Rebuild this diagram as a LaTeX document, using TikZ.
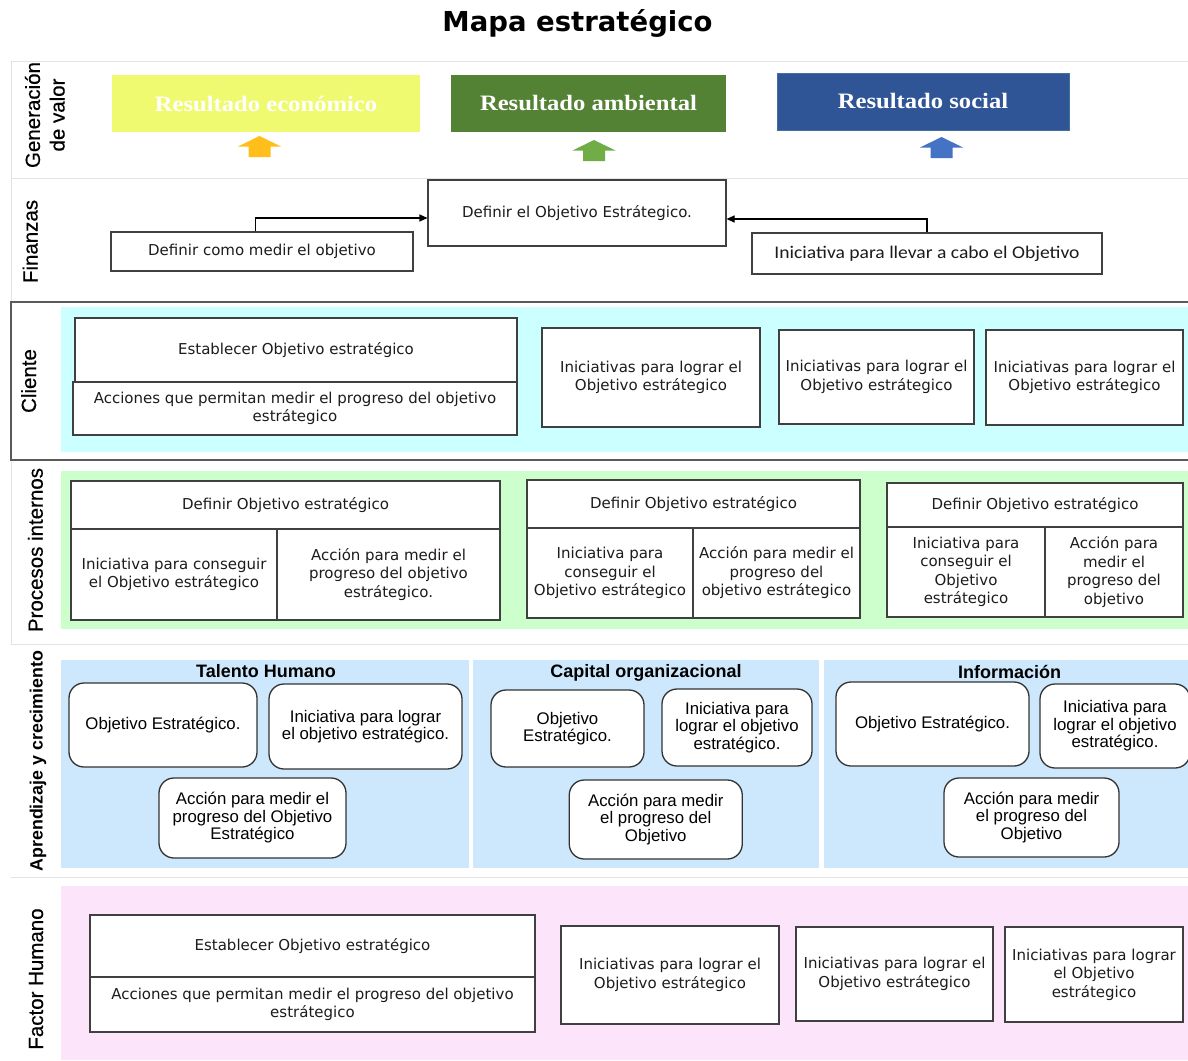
\documentclass[tikz,border=0pt]{standalone}
\usepackage{fontspec}
\setmainfont{DejaVu Sans}
\newfontfamily\tahfont{DejaVu Sans}
\newfontfamily\arialfont{Liberation Sans}
\newfontfamily\labelfont{Liberation Sans}[FakeBold=0.5]
\newfontfamily\calibrifont{Carlito}[FakeStretch=1.1]
\newfontfamily\cambriafont{Liberation Serif}[FakeStretch=1.12]
\usetikzlibrary{arrows.meta}

\definecolor{ecoYellow}{HTML}{F0FA70}
\definecolor{ambGreen}{HTML}{548235}
\definecolor{socBlue}{HTML}{2F5597}
\definecolor{socEdge}{HTML}{41719C}
\definecolor{arrOrange}{HTML}{FFBE1A}
\definecolor{arrGreen}{HTML}{70AD47}
\definecolor{arrBlue}{HTML}{4472C4}
\definecolor{cliCyan}{HTML}{CCFFFF}
\definecolor{procGreen}{HTML}{CCFFCC}
\definecolor{aprBlue}{HTML}{CDE8FC}
\definecolor{facPink}{HTML}{FCE4FB}
\definecolor{sepGray}{HTML}{E3E3E3}
\definecolor{frameGray}{HTML}{595959}
\definecolor{inkDark}{HTML}{1E1A1E}

\begin{document}
\begin{tikzpicture}[x=1pt,y=-1pt,
  sz/.style 2 args={minimum width=#1pt,minimum height=#2pt},
  box/.style={draw=black!75,line width=1.1pt,fill=white,inner sep=1pt,align=center,
    text=inkDark,font=\tahfont\fontsize{15}{18.5}\selectfont},
  rbox/.style={draw=black!80,line width=1.3pt,fill=white,rounded corners=15pt,inner sep=1pt,
    align=center,text=black,font=\arialfont\fontsize{16.8}{17.5}\selectfont},
  resbox/.style={inner sep=0pt,text=white,font=\cambriafont\bfseries\fontsize{22}{26}\selectfont},
  heading/.style={anchor=base,font=\arialfont\bfseries\fontsize{18}{20}\selectfont},
  sidelabel/.style={rotate=90,anchor=base,font=\labelfont\fontsize{20.5}{24.6}\selectfont},
  conn/.style={line width=1.1pt,-{Triangle[length=8pt,width=7pt]}},
  sepline/.style={draw=sepGray,line width=1pt},
  uparrow/.pic={\path[pic actions] (-11,0) -- (-11,-10.5) -- (-21.5,-10.5) -- (0,-21)
     -- (21.5,-10.5) -- (11,-10.5) -- (11,0) -- cycle;}
]
\useasboundingbox (0,0) rectangle (1188,1060);
\fill[white] (0,0) rectangle (1188,1060);

% ---- title
\node[anchor=base,font=\tahfont\bfseries\fontsize{27.5}{31}\selectfont] (title) at (577.5,31) {Mapa estratégico};

% ---- section rules and backgrounds
\draw[sepline] (11,61) -- (1188,61);
\draw[sepline] (11,178) -- (1188,178);
\draw[sepline] (11,61) -- (11,302);
\draw[sepline] (11,460) -- (11,644);
\draw[sepline] (11,644) -- (1188,644);
\draw[sepline] (11,877) -- (1188,877);
\draw[frameGray,line width=1.2pt] (1188,302) -- (11,302) -- (11,460) -- (1188,460);

\fill[cliCyan] (61,307) rectangle (1188,452);
\fill[procGreen] (61,471) rectangle (1188,629);
\fill[aprBlue] (61,660) rectangle (469,868);
\fill[aprBlue] (473,660) rectangle (819,868);
\fill[aprBlue] (824,660) rectangle (1188,868);
\fill[facPink] (61,886) rectangle (1188,1060);

% ---- side labels
\node[rotate=90,align=center,font=\labelfont\fontsize{20.5}{24.6}\selectfont] (lgen) at (44.8,115) {Generación\\de valor};
\node[sidelabel] (lfin) at (37.5,241.5) {Finanzas};
\node[sidelabel] (lcli) at (36,381) {Cliente};
\node[sidelabel] (lpro) at (42.7,550) {Procesos internos};
\node[sidelabel,font=\arialfont\bfseries\fontsize{17.8}{20}\selectfont] (lapr) at (42.7,761) {Aprendizaje y crecimiento};
\node[sidelabel] (lfac) at (43,979) {Factor Humano};

% ---- value results
\node[resbox,fill=ecoYellow,sz={308}{57}] (eco) at (266,103.5) {Resultado económico};
\node[resbox,fill=ambGreen,sz={275}{57}] (amb) at (588.5,103.5) {Resultado ambiental};
\node[resbox,fill=socBlue,draw=socEdge,line width=0.8pt,sz={292}{57}] (soc) at (923,101.5) {Resultado social};
\pic[fill=arrOrange] at (259.5,157) {uparrow};
\pic[fill=arrGreen] at (594,161) {uparrow};
\pic[fill=arrBlue] at (941.5,158) {uparrow};

% ---- finance
\node[box,sz={298}{66}] (fobj) at (577,213) {Definir el Objetivo Estrátegico.};
\node[box,sz={302}{39}] (fmed) at (262,251.5) {Definir como medir el objetivo};
\node[box,sz={350}{41},font=\calibrifont\fontsize{17.8}{20}\selectfont] (fini) at (927,253.5) {Iniciativa para llevar a cabo el Objetivo};
\draw[conn] ([xshift=-6.5pt]fmed.north) |- ([yshift=-5pt]fobj.west);
\draw[conn] (fini.north) |- ([yshift=-6pt]fobj.east);

% ---- customer
\node[box,sz={442}{64}] (cobj) at (296,350) {Establecer Objetivo estratégico};
\node[box,sz={444}{53}] (cmed) at (295,408.5) {Acciones que permitan medir el progreso del objetivo\\estrátegico};
\node[box,sz={218}{99}] (cini1) at (651,377.5) {Iniciativas para lograr el\\Objetivo estrátegico};
\node[box,sz={195}{94}] (cini2) at (876.5,377) {Iniciativas para lograr el\\Objetivo estrátegico};
\node[box,sz={197}{95}] (cini3) at (1084.5,377.5) {Iniciativas para lograr el\\Objetivo estrátegico};

% ---- internal processes
\node[box,sz={429}{48}] (p1obj) at (285.5,505) {Definir Objetivo estratégico};
\node[box,sz={206}{91}] (p1ini) at (174,574.5) {Iniciativa para conseguir\\el Objetivo estrátegico};
\node[box,sz={223}{91}] (p1med) at (388.5,574.5) {Acción para medir el\\progreso del objetivo\\estrátegico.};

\node[box,sz={333}{48}] (p2obj) at (693.5,504) {Definir Objetivo estratégico};
\node[box,sz={166}{90}] (p2ini) at (610,573) {Iniciativa para\\conseguir el\\Objetivo estrátegico};
\node[box,sz={167}{90}] (p2med) at (776.5,573) {Acción para medir el\\progreso del\\objetivo estrátegico};

\node[box,sz={296}{44}] (p3obj) at (1035,505) {Definir Objetivo estratégico};
\node[box,sz={158}{90}] (p3ini) at (966,572) {Iniciativa para\\conseguir el\\Objetivo\\estrátegico};
\node[box,sz={138}{90}] (p3med) at (1114,572) {Acción para\\medir el\\progreso del\\objetivo};

% ---- learning and growth
\node[heading] (hth) at (266,677) {Talento Humano};
\node[heading] (hco) at (646,677) {Capital organizacional};
\node[heading] (hin) at (1009.5,678) {Información};

\node[rbox,sz={188}{84}] (th1) at (163,725) {Objetivo Estratégico.};
\node[rbox,sz={193}{85}] (th2) at (365.5,726.5) {Iniciativa para lograr\\el objetivo estratégico.};
\node[rbox,sz={187}{80}] (th3) at (252.5,818) {Acción para medir el\\progreso del Objetivo\\Estratégico};

\node[rbox,sz={153}{77}] (co1) at (567.5,728.5) {Objetivo\\Estratégico.};
\node[rbox,sz={150}{77}] (co2) at (737,727.5) {Iniciativa para\\lograr el objetivo\\estratégico.};
\node[rbox,sz={173}{79}] (co3) at (655.75,819.5) {Acción para medir\\el progreso del\\Objetivo};

\node[rbox,sz={193}{84}] (in1) at (932.5,724) {Objetivo Estratégico.};
\node[rbox,sz={150}{84}] (in2) at (1115,726) {Iniciativa para\\lograr el objetivo\\estratégico.};
\node[rbox,sz={175}{79}] (in3) at (1031.5,817.5) {Acción para medir\\el progreso del\\Objetivo};

% ---- human factor
\node[box,sz={445}{62}] (hobj) at (312.5,946) {Establecer Objetivo estratégico};
\node[box,sz={445}{55}] (hmed) at (312.5,1004.5) {Acciones que permitan medir el progreso del objetivo\\estrátegico};
\node[box,sz={218}{98}] (hini1) at (670,975) {Iniciativas para lograr el\\Objetivo estrátegico};
\node[box,sz={197}{94}] (hini2) at (894.5,974) {Iniciativas para lograr el\\Objetivo estrátegico};
\node[box,sz={178}{95}] (hini3) at (1094,974.5) {Iniciativas para lograr\\el Objetivo\\estrátegico};
\end{tikzpicture}
\end{document}
